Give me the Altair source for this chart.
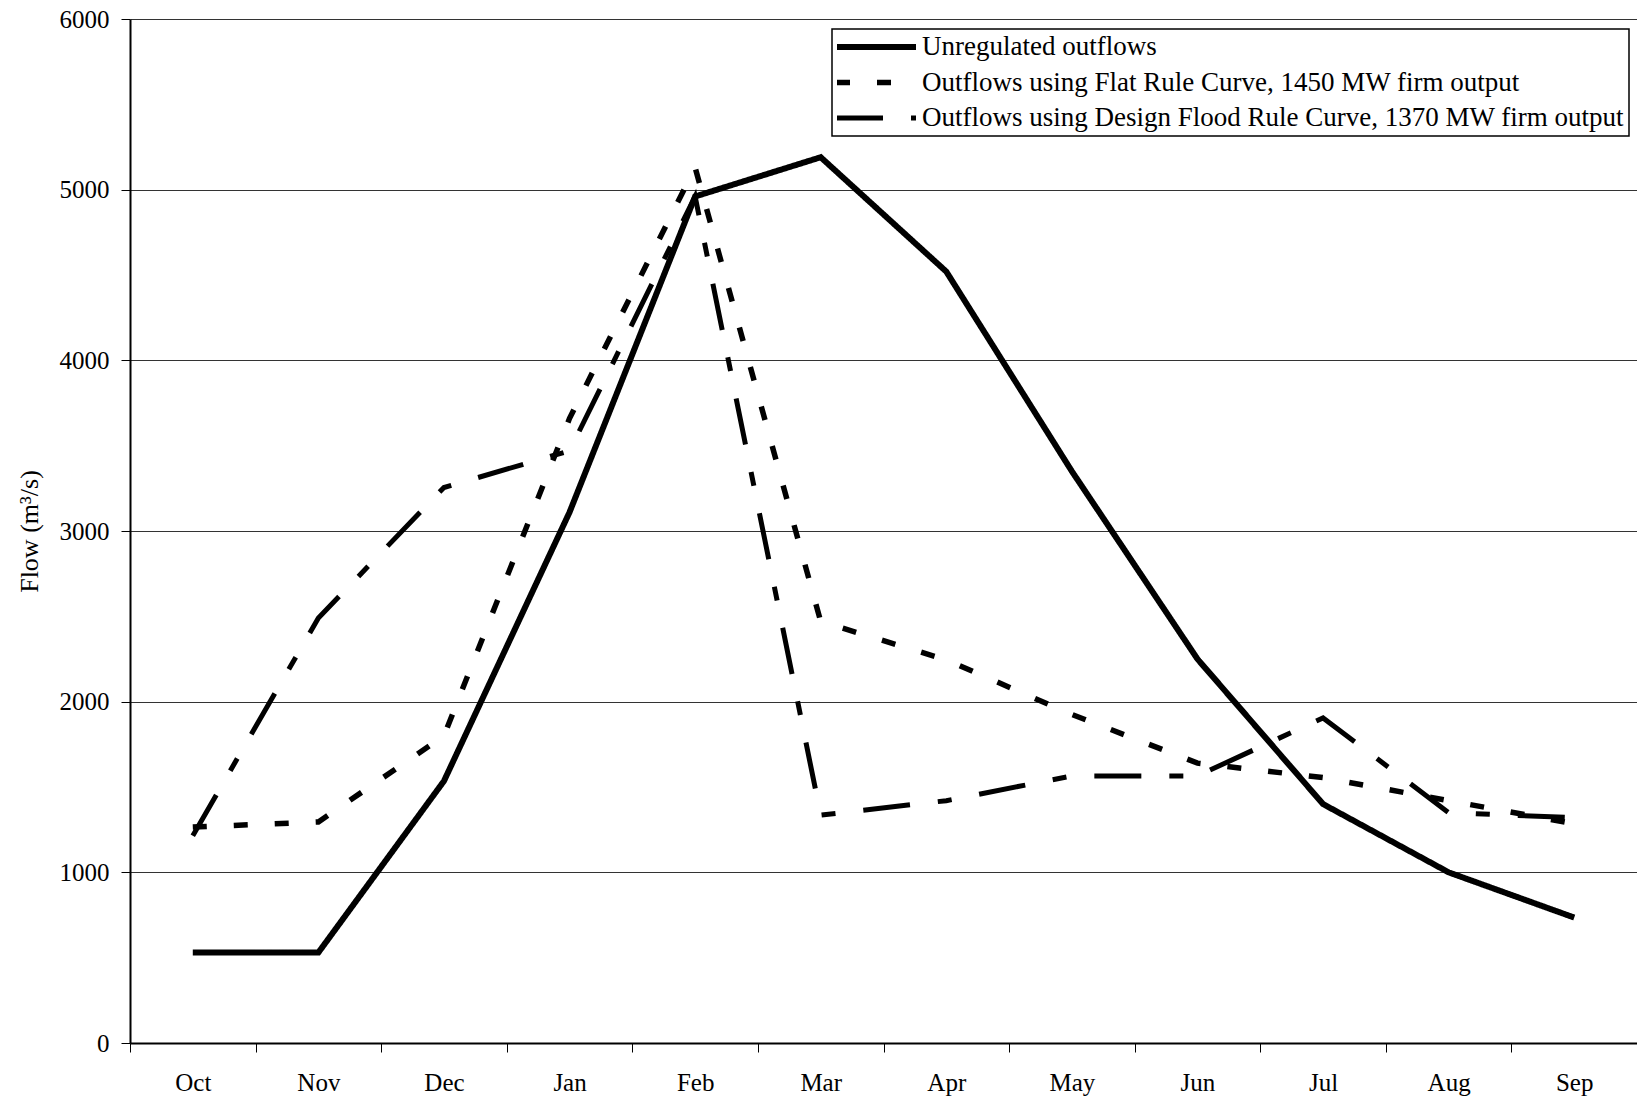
import altair as alt
import pandas as pd

months = ["Oct", "Nov", "Dec", "Jan", "Feb", "Mar", "Apr", "May", "Jun", "Jul", "Aug", "Sep"]
series_names = [
    "Unregulated outflows",
    "Outflows using Flat Rule Curve, 1450 MW firm output",
    "Outflows using Design Flood Rule Curve, 1370 MW firm output",
]
unregulated = [530, 530, 1535, 3110, 4960, 5190, 4520, 3350, 2250, 1400, 1000, 735]
flat_rule = [1265, 1295, 1800, 3660, 5130, 2470, 2245, 1925, 1640, 1555, 1420, 1285]
design_flood = [1215, 2490, 3255, 3470, 4960, 1335, 1420, 1565, 1565, 1905, 1350, 1320]

rows = []
for name, vals in zip(series_names, [unregulated, flat_rule, design_flood]):
    for m, v in zip(months, vals):
        rows.append({"Month": m, "Flow": v, "Series": name})
df = pd.DataFrame(rows)

FONT = "Liberation Serif"

chart = alt.Chart(df).mark_line(strokeJoin="miter").encode(
    x=alt.X(
        "Month:N",
        sort=months,
        scale=alt.Scale(type="band", paddingInner=0, paddingOuter=0),
        axis=alt.Axis(
            title=None,
            labelAngle=0,
            tickBand="extent",
            domainColor="black",
            domainWidth=2,
            tickColor="black",
            tickWidth=1,
            tickSize=9,
            labelPadding=18,
            labelFont=FONT,
            labelFontSize=25,
            labelColor="black",
            grid=False,
        ),
    ),
    y=alt.Y(
        "Flow:Q",
        scale=alt.Scale(domain=[0, 6000], nice=False),
        axis=alt.Axis(
            title="Flow (m³/s)",
            values=[0, 1000, 2000, 3000, 4000, 5000, 6000],
            format="d",
            grid=True,
            gridColor="#333333",
            gridWidth=1,
            domainColor="black",
            domainWidth=2,
            tickColor="black",
            tickSize=9,
            labelPadding=12,
            labelFont=FONT,
            labelFontSize=25,
            labelColor="black",
            titleFont=FONT,
            titleFontSize=26,
            titleFontWeight="normal",
            titleColor="black",
            titleX=-101,
            titleY=512,
            titleBaseline="middle",
        ),
    ),
    detail="Series:N",
    strokeDash=alt.StrokeDash(
        "Series:N",
        sort=series_names,
        scale=alt.Scale(domain=series_names, range=[[1, 0], [14, 27], [47, 28, 14, 28]]),
        legend=alt.Legend(
            title=None,
            orient="none",
            legendX=702,
            legendY=10,
            symbolType="stroke",
            symbolSize=80 * 80,
            symbolStrokeWidth=6,
            symbolStrokeColor="black",
            symbolOffset=-4,
            clipHeight=26,
            rowPadding=8.5,
            labelOffset=3,
            labelFont=FONT,
            labelFontSize=27,
            labelColor="black",
            labelLimit=1000,
            padding=5,
            strokeColor="black",
            fillColor="white",
        ),
    ),
    strokeWidth=alt.StrokeWidth(
        "Series:N",
        scale=alt.Scale(domain=series_names, range=[6, 5, 5]),
        legend=None,
    ),
    color=alt.value("black"),
).properties(
    width=1507,
    height=1024,
    autosize=alt.AutoSizeParams(type="none"),
    padding={"left": 130, "top": 19, "right": 0, "bottom": 56},
    background="white",
).configure_view(stroke=None).configure_legend(strokeWidth=1.5)

chart.save("out.html", embed_options={"renderer": "svg", "actions": False})
